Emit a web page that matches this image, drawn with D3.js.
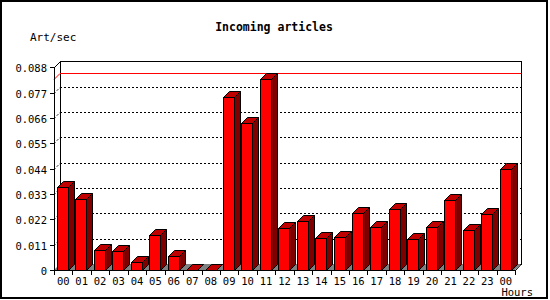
<!DOCTYPE html>
<meta charset="utf-8">
<style>
  body { margin: 0; background: #fff; }
  text { font-family: "DejaVu Sans Mono", monospace; fill: #000; }
</style>
<body>
<script src="https://cdn.jsdelivr.net/npm/d3@7"></script>
<script>
  // hours along the x axis (last 00 is next day)
  var hours = ["00","01","02","03","04","05","06","07","08","09","10","11",
               "12","13","14","15","16","17","18","19","20","21","22","23","00"];
  // articles per second
  var rates = [0.0359, 0.0307, 0.0087, 0.0083, 0.0033, 0.0151, 0.0059, 0, 0,
               0.0750, 0.0637, 0.0828, 0.0181, 0.0213, 0.0138, 0.0142, 0.0246,
               0.0185, 0.0264, 0.0133, 0.0185, 0.0303, 0.0172, 0.0242, 0.0437];
  var yTicks = [0, 0.011, 0.022, 0.033, 0.044, 0.055, 0.066, 0.077, 0.088];

  var width = 550, height = 300,
      dx = 6, dy = 6; // 3d depth offset

  var svg = d3.select("body").append("svg")
      .attr("width", width)
      .attr("height", height);

  var x = d3.scaleBand()
      .domain(d3.range(hours.length))
      .range([54, 515]);

  var y = d3.scaleLinear()
      .domain([0, 0.088])
      .range([270, 67.4]);

  var x0 = x.range()[0], x1 = x.range()[1], y0 = y(0), yTop = Math.round(y(0.088));

  // outer frame
  svg.append("rect")
      .attr("x", 1).attr("y", 1)
      .attr("width", 546).attr("height", 297)
      .attr("fill", "#fff").attr("stroke", "#000").attr("stroke-width", 2);

  svg.append("text")
      .attr("x", 274).attr("y", 31)
      .attr("text-anchor", "middle")
      .style("font-size", "11.5px").style("font-weight", "bold")
      .text("Incoming articles");

  svg.append("text")
      .attr("x", 30).attr("y", 41)
      .style("font-size", "11px")
      .text("Art/sec");

  // back wall
  svg.append("rect")
      .attr("x", x0 + dx + 0.5).attr("y", yTop - dy + 0.5)
      .attr("width", x1 - x0).attr("height", y0 - yTop)
      .attr("fill", "#fff").attr("stroke", "#000")
      .attr("shape-rendering", "crispEdges");

  // dotted grid on the back wall
  var grid = svg.append("g")
      .attr("stroke", "#000").attr("stroke-dasharray", "2,2").attr("fill", "none");
  yTicks.slice(1, -1).forEach(function(v) {
    var yy = Math.round(y(v)) + 0.5;
    grid.append("path")
        .attr("d", "M" + x0 + "," + yy + "L" + (x0 + dx) + "," + (yy - dy));
    grid.append("path")
        .attr("shape-rendering", "crispEdges")
        .attr("d", "M" + (x0 + dx) + "," + (yy - dy) + "H" + (x1 + dx));
  });

  // max line
  var ym = Math.round(y(d3.max(rates))) + 0.5;
  svg.append("path")
      .attr("d", "M" + x0 + "," + ym + "L" + (x0 + dx) + "," + (ym - dy))
      .attr("stroke", "#f00").attr("fill", "none");
  svg.append("path")
      .attr("d", "M" + (x0 + dx) + "," + (ym - dy) + "H" + (x1 + dx))
      .attr("stroke", "#f00").attr("fill", "none")
      .attr("shape-rendering", "crispEdges");

  // floor
  svg.append("path")
      .attr("d", "M" + x0 + "," + y0 + "H" + x1 + "L" + (x1 + dx) + "," + (y0 - dy) +
                 "H" + (x0 + dx) + "Z")
      .attr("fill", "#808080");
  svg.append("path")
      .attr("d", "M" + (x0 + dx + 0.5) + "," + (yTop - dy + 0.5) + "L" + (x0 + 0.5) + "," + (yTop + 0.5) +
                 "V" + (y0 + 0.5) + "H" + (x1 + 0.5) + "L" + (x1 + dx + 0.5) + "," + (y0 - dy))
      .attr("stroke", "#000").attr("fill", "none");

  // bars
  var bw = 11;
  function fx(i) { return Math.round(x(i) + 3) + 0.5; }
  function fy(d) { return Math.round(y(d)) + 0.5; }

  var bars = svg.append("g").selectAll("g")
      .data(rates)
      .enter().append("g")
      .attr("stroke", "#000");

  bars.append("path") // side
      .attr("d", function(d, i) {
        var l = fx(i) + bw, t = fy(d), b = y0 + 0.5;
        return "M" + l + "," + t + "L" + (l + dx) + "," + (t - dy) +
               "V" + (b - dy) + "L" + l + "," + b + "Z";
      })
      .attr("fill", "#800000");

  bars.append("path") // top
      .attr("d", function(d, i) {
        var l = fx(i), t = fy(d);
        return "M" + l + "," + t + "L" + (l + dx) + "," + (t - dy) +
               "H" + (l + bw + dx) + "L" + (l + bw) + "," + t + "Z";
      })
      .attr("fill", "#c00000");

  bars.each(function(d, i) {
    if (d <= 0) return;
    d3.select(this).append("rect") // front
        .attr("x", fx(i)).attr("y", fy(d))
        .attr("width", bw).attr("height", y0 + 0.5 - fy(d))
        .attr("fill", "#f00")
        .attr("shape-rendering", "crispEdges");
  });

  // y axis ticks and labels
  var yAxis = svg.append("g").attr("shape-rendering", "crispEdges");
  yTicks.forEach(function(v) {
    var yy = Math.round(y(v)) + 0.5;
    yAxis.append("line")
        .attr("x1", x0 - 4).attr("x2", x0 + 0.5)
        .attr("y1", yy).attr("y2", yy)
        .attr("stroke", "#000");
    yAxis.append("text")
        .attr("x", x0 - 7).attr("y", yy + 4)
        .attr("text-anchor", "end")
        .style("font-size", "10.5px")
        .text(v === 0 ? "0" : v.toFixed(3));
  });

  // x axis ticks and labels
  var xAxis = svg.append("g");
  d3.range(hours.length + 1).forEach(function(i) {
    var xx = Math.round(i < hours.length ? x(i) : x1) + 0.5;
    xAxis.append("line")
        .attr("x1", xx).attr("x2", xx)
        .attr("y1", y0).attr("y2", y0 + 5)
        .attr("stroke", "#000")
        .attr("shape-rendering", "crispEdges");
  });
  hours.forEach(function(h, i) {
    xAxis.append("text")
        .attr("x", x(i) + x.bandwidth() / 2).attr("y", y0 + 15)
        .attr("text-anchor", "middle")
        .style("font-size", "10.5px")
        .text(h);
  });

  svg.append("text")
      .attr("x", 533).attr("y", 296)
      .attr("text-anchor", "end")
      .style("font-size", "10.5px")
      .text("Hours");
</script>
</body>
